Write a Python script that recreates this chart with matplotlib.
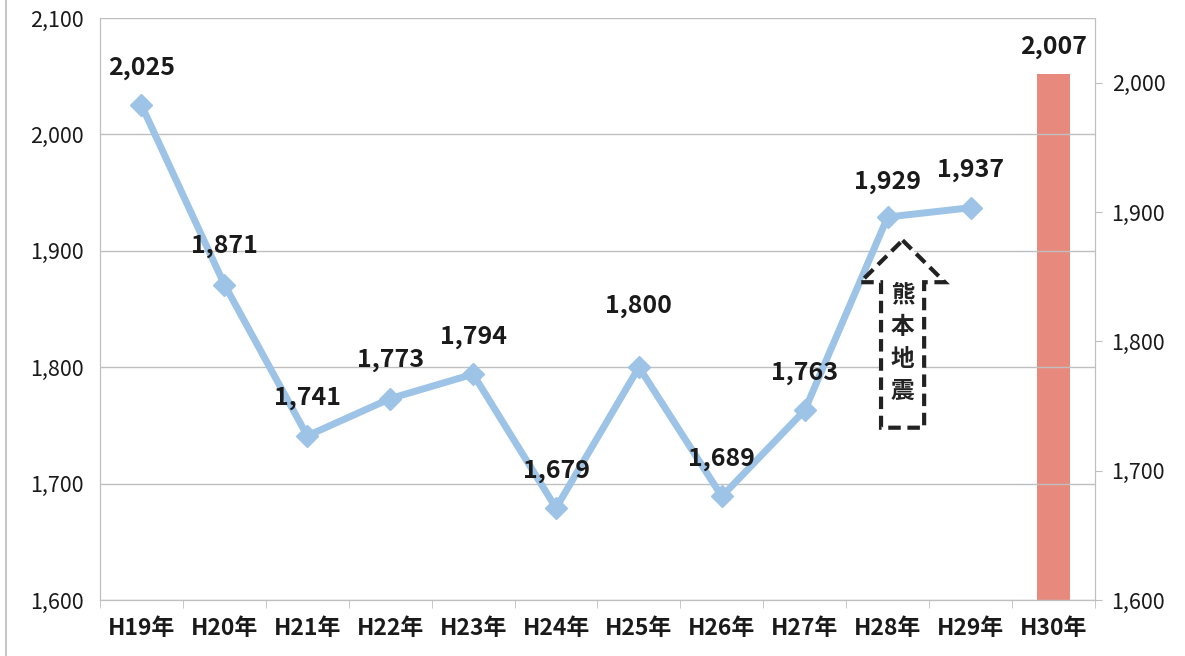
import numpy as np
import matplotlib.pyplot as plt
from matplotlib.patches import Polygon
from matplotlib.lines import Line2D

plt.rcParams['font.family'] = ['Noto Sans CJK JP', 'DejaVu Sans']

years = ['H19年', 'H20年', 'H21年', 'H22年', 'H23年', 'H24年',
         'H25年', 'H26年', 'H27年', 'H28年', 'H29年', 'H30年']
line_vals = [2025, 1871, 1741, 1773, 1794, 1679, 1800, 1689, 1763, 1929, 1937]
bar_val = 2007
label_offset = [27, 28, 27, 28, 27, 27, 44, 27, 27, 25, 27]

grid_c = '#bfbfbf'
blue = '#9dc3e6'
red = '#e8897d'

fig = plt.figure(figsize=(11.85, 6.56), dpi=100)
ax = fig.add_axes([0.0844, 0.0854, 0.8396, 0.8872])
ax2 = ax.twinx()

x = np.arange(len(line_vals))
ax.plot(x, line_vals, color=blue, lw=5, marker='D', ms=11,
        mfc=blue, mec=blue, zorder=3)
for xi, v, off in zip(x, line_vals, label_offset):
    ax.annotate(f'{v:,}', (xi, v), xytext=(0, off), textcoords='offset points',
                ha='center', va='center', fontsize=18, fontweight='bold',
                color='#1a1a1a', zorder=6)

ax2.bar(len(years) - 1, bar_val, width=0.4, color=red, zorder=2)
ax2.annotate(f'{bar_val:,}', (len(years) - 1, bar_val), xytext=(0, 19),
             textcoords='offset points', ha='center', va='center',
             fontsize=18, fontweight='bold', color='#1a1a1a')

ax.set_xlim(-0.5, len(years) - 0.5)
ax.set_ylim(1600, 2100)
ax.set_yticks(np.arange(1600, 2101, 100))
ax.set_yticklabels([f'{v:,}' for v in range(1600, 2101, 100)])
ax2.set_ylim(1600, 2050)
ax2.set_yticks(np.arange(1600, 2001, 100))
ax2.set_yticklabels([f'{v:,}' for v in range(1600, 2001, 100)])

ax.set_xticks(x.tolist() + [len(years) - 1])
ax.set_xticks(np.arange(-0.5, len(years), 1), minor=True)
ax.set_xticklabels(years, fontsize=16.5, fontweight='bold', color='#1a1a1a')
ax.tick_params(axis='x', which='major', length=0, pad=12)
ax.tick_params(axis='x', which='minor', length=6, color=grid_c, direction='out')
ax.tick_params(axis='y', length=0, labelsize=15.5, pad=12, colors='#1a1a1a')
ax2.tick_params(axis='y', length=5, color=grid_c, labelsize=15.5, pad=7,
                colors='#1a1a1a')

ax.yaxis.grid(True, color=grid_c, lw=1)
ax.set_axisbelow(True)
for a in (ax, ax2):
    a.spines['top'].set_visible(False)
    for s in ('left', 'right', 'bottom'):
        a.spines[s].set_color(grid_c)
ax.set_zorder(ax2.get_zorder() + 1)
ax.patch.set_visible(False)

# dashed up-arrow with 熊本地震
cx, hw, sw = 9.18, 0.51, 0.26
tip, base, bottom = 1909, 1873, 1748
arrow = Polygon([(cx, tip), (cx + hw, base), (cx + sw, base), (cx + sw, bottom),
                 (cx - sw, bottom), (cx - sw, base), (cx - hw, base)],
                closed=True, fc='white', ec='#222222', lw=3, ls=(0, (3, 1.6)),
                zorder=5)
ax.add_patch(arrow)
ax.text(cx, 1821, '熊\n本\n地\n震', ha='center', va='center', fontsize=17,
        fontweight='bold', color='#222222', linespacing=1.42, zorder=6)

fig.add_artist(Line2D([0.005, 0.005], [0, 1], color='#bbbbbb', lw=1.2))

fig.savefig('out.png', dpi=100)
